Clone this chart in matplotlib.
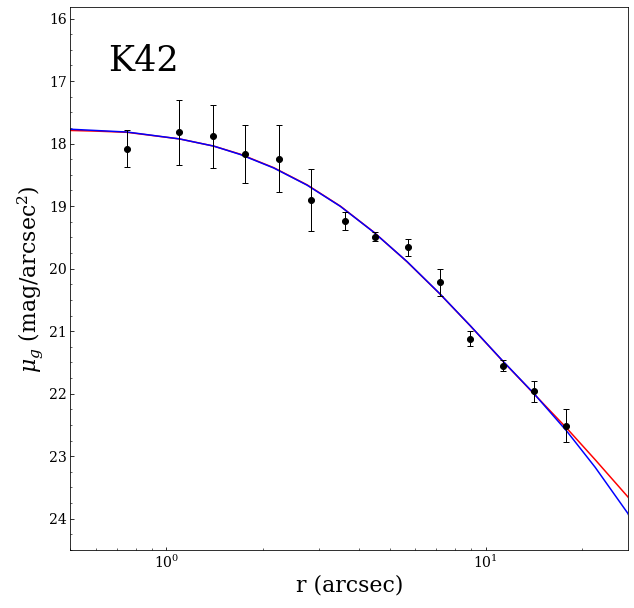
import matplotlib
matplotlib.use("Agg")
from matplotlib import pyplot as plt
from matplotlib.ticker import AutoMinorLocator

# observed profile
r_obs = [0.751, 1.098, 1.404, 1.759, 2.247, 2.845, 3.618, 4.491, 5.697, 7.177, 8.956, 11.30, 14.13, 17.89]
mu_obs = [18.08, 17.82, 17.88, 18.17, 18.24, 18.90, 19.24, 19.49, 19.66, 20.22, 21.12, 21.55, 21.96, 22.51]
mu_err = [0.29, 0.52, 0.505, 0.46, 0.53, 0.49, 0.14, 0.07, 0.14, 0.215, 0.12, 0.09, 0.165, 0.26]

# model curves
r_mod = [0.5, 0.599, 0.753, 1.098, 1.406, 1.705, 2.168, 2.759, 3.507, 4.459,
         5.674, 7.177, 8.956, 11.30, 14.13, 17.98, 22.06, 27.9, 28.0]
mu_red = [17.79, 17.80, 17.82, 17.925, 18.04, 18.17, 18.385, 18.66, 19.0, 19.414,
          19.89, 20.40, 20.915, 21.475, 21.995, 22.555, 23.057, 23.649, 23.66]
mu_blue = [17.77, 17.79, 17.815, 17.925, 18.04, 18.175, 18.39, 18.665, 19.004, 19.416,
           19.887, 20.398, 20.913, 21.472, 21.99, 22.602, 23.179, 23.913, 23.93]

plt.rcParams['font.family'] = 'DejaVu Serif'
plt.rcParams['mathtext.fontset'] = 'dejavuserif'

fig = plt.figure(figsize=(634/72, 608/72), dpi=72)
ax = fig.add_subplot(111)
fig.subplots_adjust(left=0.111, right=0.991, top=0.988, bottom=0.0954)

ax.plot(r_mod, mu_red, color='red', lw=1.5)
ax.plot(r_mod, mu_blue, color='blue', lw=1.5)
ax.errorbar(r_obs, mu_obs, yerr=mu_err, fmt='o', color='k', ms=6,
            elinewidth=1, capsize=3)

ax.set_xscale('log')
ax.set_xlim(0.5, 28)
ax.set_ylim(24.5, 15.82)
ax.yaxis.set_minor_locator(AutoMinorLocator(4))
ax.tick_params(which='both', direction='in', labelsize=14)

ax.set_xlabel("r (arcsec)", fontsize=22)
ax.set_ylabel(r"$\mu_g$ (mag/arcsec$^2$)", fontsize=22)
ax.text(0.068, 0.883, "K42", transform=ax.transAxes, fontsize=35, va='baseline')

plt.savefig('out.png', dpi=72)
